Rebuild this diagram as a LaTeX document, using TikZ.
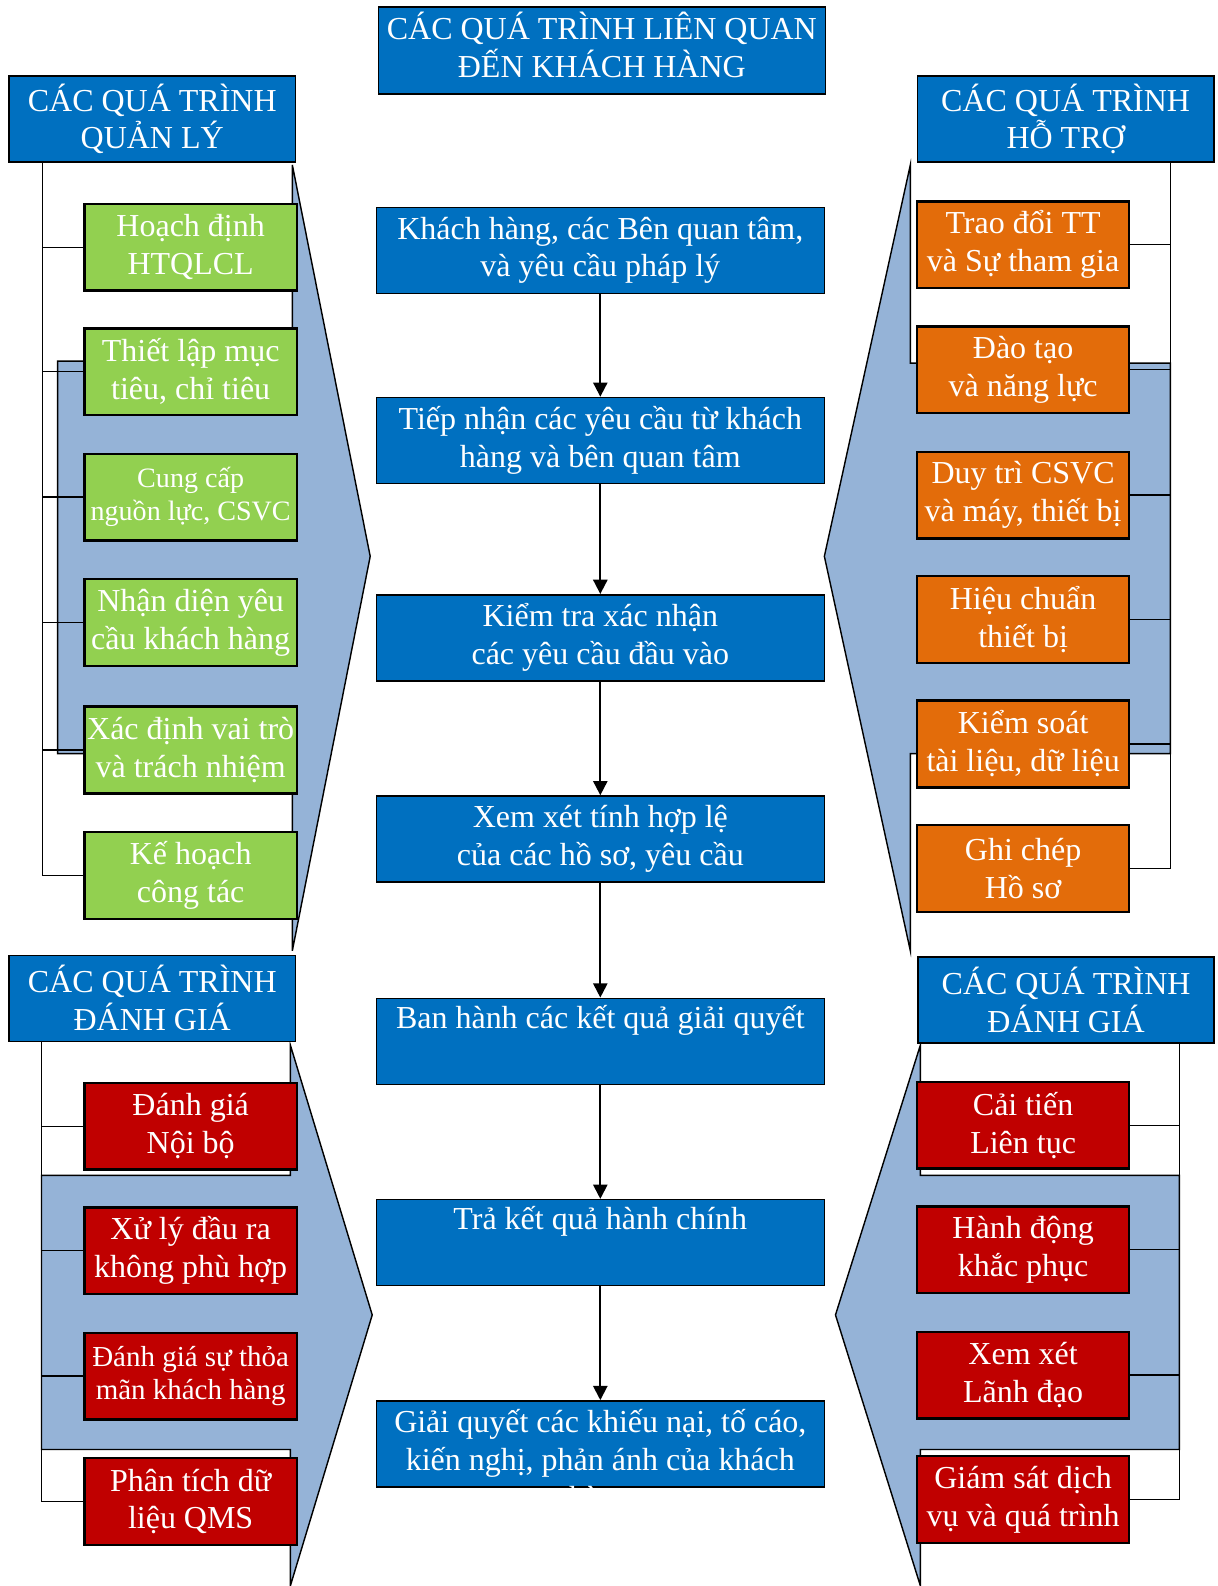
\documentclass[tikz,border=0pt]{standalone}
\usepackage{fontspec}
\setmainfont{Liberation Serif}
\usetikzlibrary{arrows.meta}

\definecolor{qtblue}{HTML}{0070C0}
\definecolor{qtgreen}{HTML}{92D050}
\definecolor{qtorange}{HTML}{E36C0A}
\definecolor{qtred}{HTML}{C00000}
\definecolor{qtpale}{HTML}{95B3D7}

\tikzset{
  box/.style={draw=black, line width=0.9pt, text=white, align=center, inner sep=0pt,
    font=\fontsize{18}{21.3}\selectfont},
  head/.style={box, fill=qtblue, minimum width=5.66cm, minimum height=1.7cm},
  cbox/.style={box, fill=qtblue, minimum width=8.86cm, minimum height=1.7cm},
  gbox/.style={box, fill=qtgreen, minimum width=4.18cm, minimum height=1.7cm},
  obox/.style={box, fill=qtorange, minimum width=4.18cm, minimum height=1.7cm},
  rbox/.style={box, fill=qtred, minimum width=4.18cm, minimum height=1.7cm},
  bigarrow/.style={draw=black, line width=0.8pt, fill=qtpale, line join=miter},
  bracket/.style={draw=black, line width=0.8pt},
  flow/.style={draw=black, line width=1.1pt, -{Triangle[length=8pt,width=8pt]}},
}

\begin{document}
\begin{tikzpicture}[x=0.02cm,y=-0.02cm]
    \useasboundingbox (0,0) rectangle (1204,1568);

    % the four big arrows behind the boxes
    \draw[bigarrow] (57,357) -- (289,357) -- (289,163) -- (366,550) -- (289,940) -- (289,745) -- (57,745) -- cycle;
    \draw[bigarrow] (1157,359) -- (900,359) -- (900,163) -- (815,550) -- (900,940) -- (900,745) -- (1157,745) -- cycle;
    \draw[bigarrow] (41,1162) -- (287,1162) -- (287,1033) -- (368,1300) -- (287,1568) -- (287,1433) -- (41,1433) -- cycle;
    \draw[bigarrow] (1166,1162) -- (910,1162) -- (910,1033) -- (826,1300) -- (910,1568) -- (910,1433) -- (1166,1433) -- cycle;

    % headers
    \node[head, minimum width=8.84cm, minimum height=1.72cm] (kh) at (595,50) {};
    \node[box, draw=none] (kht) at (595,44) {CÁC QUÁ TRÌNH LIÊN QUAN\\ĐẾN KHÁCH HÀNG};
    \node[head] (ql) at (150.5,117.5) {CÁC QUÁ TRÌNH\\QUẢN LÝ};
    \node[head, minimum width=5.86cm] (ht) at (1053.5,117.5) {CÁC QUÁ TRÌNH\\HỖ TRỢ};
    \node[head] (dgl) at (150.5,987) {CÁC QUÁ TRÌNH\\ĐÁNH GIÁ};
    \node[head, minimum width=5.86cm] (dgr) at (1054,988.5) {CÁC QUÁ TRÌNH\\ĐÁNH GIÁ};

    % bracket roots
    \coordinate (qlb) at (42,160);
    \coordinate (htb) at (1157,160);
    \coordinate (dglb) at (41,1030);
    \coordinate (dgrb) at (1166,1031);

    % management
    \node[gbox] (g1) at (188.5,244.5) {Hoạch định\\HTQLCL};
    \node[gbox] (g2) at (188.5,367.5) {Thiết lập mục\\tiêu, chỉ tiêu};
    \node[gbox, font=\fontsize{15.8}{18.6}\selectfont] (g3) at (188.5,491.5) {Cung cấp\\nguồn lực, CSVC};
    \node[gbox] (g4) at (188.5,615.5) {Nhận diện yêu\\cầu khách hàng};
    \node[gbox] (g5) at (188.5,741.5) {Xác định vai trò\\và trách nhiệm};
    \node[gbox] (g6) at (188.5,865.5) {Kế hoạch\\công tác};

    % support
    \node[obox] (o1) at (1011.5,242) {Trao đổi TT\\và Sự tham gia};
    \node[obox] (o2) at (1011.5,365.5) {Đào tạo\\và năng lực};
    \node[obox] (o3) at (1011.5,489.5) {Duy trì CSVC\\và máy, thiết bị};
    \node[obox] (o4) at (1011.5,612.5) {Hiệu chuẩn\\thiết bị};
    \node[obox] (o5) at (1011.5,735.5) {Kiểm soát\\tài liệu, dữ liệu};
    \node[obox] (o6) at (1011.5,858.5) {Ghi chép\\Hồ sơ};

    % evaluation, left
    \node[rbox] (r1) at (188.5,1113.5) {Đánh giá\\Nội bộ};
    \node[rbox] (r2) at (188.5,1236.5) {Xử lý đầu ra\\không phù hợp};
    \node[rbox, font=\fontsize{16.3}{19}\selectfont] (r3) at (188.5,1360.5) {Đánh giá sự thỏa\\mãn khách hàng};
    \node[rbox] (r4) at (188.5,1484.5) {Phân tích dữ\\liệu QMS};

    % evaluation, right
    \node[rbox] (s1) at (1011.5,1112.5) {Cải tiến\\Liên tục};
    \node[rbox] (s2) at (1011.5,1235.5) {Hành động\\khắc phục};
    \node[rbox] (s3) at (1011.5,1359.5) {Xem xét\\Lãnh đạo};
    \node[rbox] (s4) at (1011.5,1482.5) {Giám sát dịch\\vụ và quá trình};

    % brackets
    \foreach \i in {1,...,6} {
        \draw[bracket] (qlb) |- (g\i.west);
        \draw[bracket] (htb) |- (o\i.east);
    }
    \foreach \i in {1,...,4} {
        \draw[bracket] (dglb) |- (r\i.west);
        \draw[bracket] (dgrb) |- (s\i.east);
    }

    % redraw boxes over the bracket ticks
    \foreach \n in {g1,g2,g3,g4,g5,g6,o1,o2,o3,o4,o5,o6,r1,r2,r3,r4,s1,s2,s3,s4}
        \draw[line width=0.9pt] (\n.south west) rectangle (\n.north east);

    % customer flow
    \node[cbox] (c1) at (593.5,247.5) {Khách hàng, các Bên quan tâm,\\và yêu cầu pháp lý};
    \node[cbox] (c2) at (593.5,435.5) {Tiếp nhận các yêu cầu từ khách\\hàng và bên quan tâm};
    \node[cbox] (c3) at (593.5,630.5) {Kiểm tra xác nhận\\các yêu cầu đầu vào};
    \node[cbox] (c4) at (593.5,829.5) {Xem xét tính hợp lệ\\của các hồ sơ, yêu cầu};
    \node[cbox] (c5) at (593.5,1029.5) {Ban hành các kết quả giải quyết\\\strut};
    \node[cbox] (c6) at (593.5,1228.5) {Trả kết quả hành chính\\\strut};
    \node[cbox] (c7) at (593.5,1427.5) {};
    \begin{scope}
        \clip (c7.south west) rectangle (c7.north east);
        \node[box, draw=none] (c7t) at (593.5,1446) {Giải quyết các khiếu nại, tố cáo,\\kiến nghị, phản ánh của khách\\hàng};
    \end{scope}

    \foreach \a/\b in {c1/c2,c2/c3,c3/c4,c4/c5,c5/c6,c6/c7}
        \draw[flow] (\a) -- (\b);
\end{tikzpicture}
\end{document}
